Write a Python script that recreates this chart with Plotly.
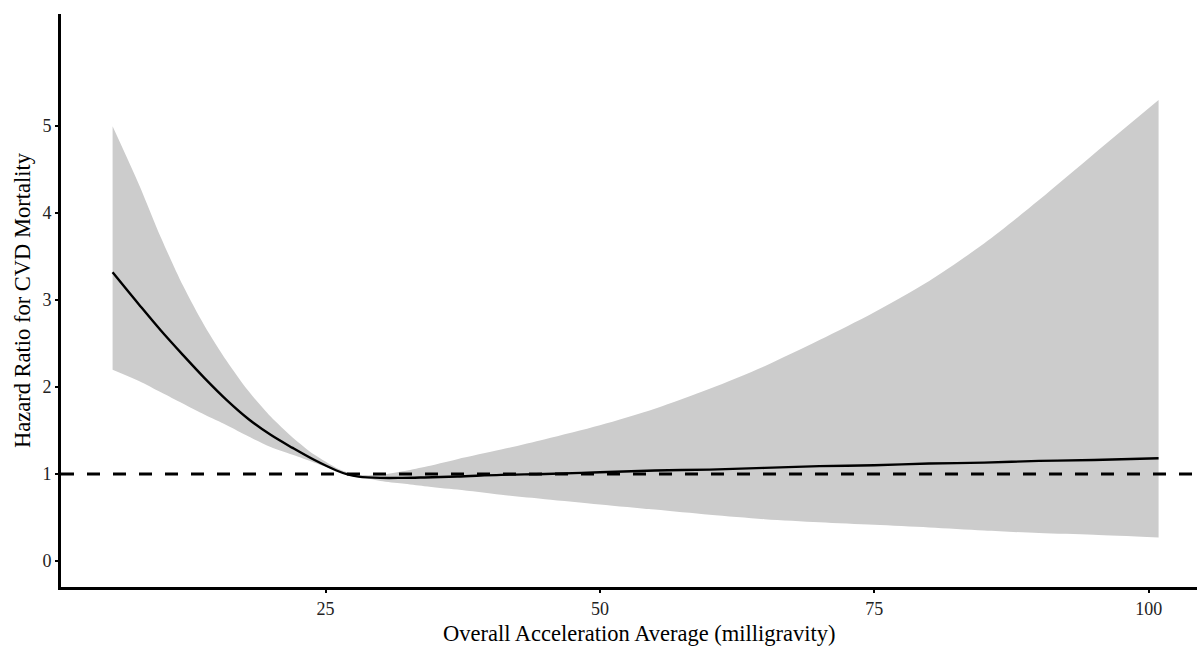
import plotly.graph_objects as go

# Acceleration (milligravity) and hazard ratio estimate with 95% CI
accel = [5.6, 8, 10, 12, 14, 16, 18, 20, 22, 24, 26, 27, 28, 30, 32, 34, 37, 41,
         45, 50, 55, 60, 65, 70, 75, 80, 85, 90, 95, 100.9]
hr = [3.32, 2.95, 2.65, 2.37, 2.10, 1.85, 1.63, 1.45, 1.30, 1.16, 1.04, 0.995, 0.97,
      0.955, 0.955, 0.96, 0.97, 0.99, 1.00, 1.02, 1.04, 1.05, 1.07, 1.09, 1.10,
      1.12, 1.13, 1.15, 1.16, 1.18]
hr_upper = [5.00, 4.33, 3.72, 3.17, 2.70, 2.30, 1.95, 1.66, 1.42, 1.22, 1.07, 1.02,
            0.99, 0.99, 1.03, 1.08, 1.17, 1.28, 1.40, 1.56, 1.75, 1.98, 2.24, 2.54,
            2.86, 3.22, 3.65, 4.15, 4.68, 5.30]
hr_lower = [2.20, 2.07, 1.94, 1.81, 1.68, 1.56, 1.43, 1.31, 1.22, 1.13, 1.04, 1.00,
            0.97, 0.92, 0.89, 0.86, 0.82, 0.76, 0.71, 0.65, 0.59, 0.53, 0.48, 0.445,
            0.415, 0.385, 0.35, 0.32, 0.30, 0.27]

x_ticks = [25, 50, 75, 100]
y_ticks = [0, 1, 2, 3, 4, 5]
reference_hr = 1

FONT = "Liberation Serif"

fig = go.Figure()

# confidence band: lower bound, then upper bound filled down to it
fig.add_trace(go.Scatter(
    x=accel, y=hr_lower, mode="lines",
    line=dict(width=0, shape="spline", smoothing=0.8, color="#cccccc"),
    hoverinfo="skip", showlegend=False,
))
fig.add_trace(go.Scatter(
    x=accel, y=hr_upper, mode="lines",
    line=dict(width=0, shape="spline", smoothing=0.8, color="#cccccc"),
    fill="tonexty", fillcolor="#cccccc",
    hoverinfo="skip", showlegend=False,
))

# point estimate
fig.add_trace(go.Scatter(
    x=accel, y=hr, mode="lines",
    line=dict(color="black", width=2.4, shape="spline", smoothing=1.0),
    showlegend=False,
))

# reference line at HR = 1
fig.add_shape(type="line", xref="paper", x0=0, x1=1, yref="y",
              y0=reference_hr, y1=reference_hr,
              line=dict(color="black", width=3, dash="13px,13px"))

# x-axis title
fig.add_annotation(
    text="Overall Acceleration Average (milligravity)",
    xref="paper", yref="paper", x=0.509, y=0, yshift=-46,
    xanchor="center", yanchor="middle", showarrow=False,
    font=dict(family=FONT, size=22.5, color="black"),
)

fig.update_layout(
    width=1199, height=647,
    margin=dict(l=61, r=2, t=14, b=60),
    paper_bgcolor="white", plot_bgcolor="white",
    font=dict(family=FONT, color="black"),
    xaxis=dict(
        range=[0.9, 104.4],
        tickvals=x_ticks, ticktext=[str(v) for v in x_ticks],
        showgrid=False, zeroline=False,
        showline=True, linecolor="black", linewidth=3,
        ticks="outside", ticklen=3, tickwidth=2, tickcolor="black",
        tickfont=dict(family=FONT, size=18, color="#222"),
    ),
    yaxis=dict(
        range=[-0.3, 6.29],
        tickvals=y_ticks, ticktext=[str(v) for v in y_ticks],
        showgrid=False, zeroline=False,
        showline=True, linecolor="black", linewidth=3,
        ticks="outside", ticklen=3, tickwidth=2, tickcolor="black",
        tickfont=dict(family=FONT, size=18, color="#222"),
        title=dict(text="Hazard Ratio for CVD Mortality",
                   font=dict(family=FONT, size=22.5, color="black"), standoff=6),
    ),
)

fig.write_html("out.html")
